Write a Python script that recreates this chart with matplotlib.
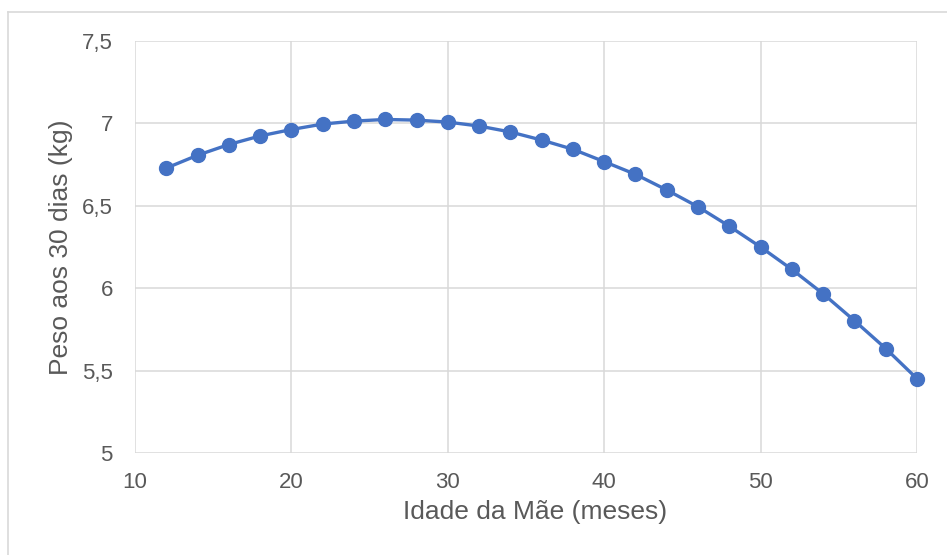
import matplotlib.pyplot as plt
from matplotlib.lines import Line2D
from matplotlib.ticker import FuncFormatter

plt.rcParams['font.family'] = ['Liberation Sans', 'DejaVu Sans']

# Idade da mãe (meses) x peso aos 30 dias (kg)
idade = [12, 14, 16, 18, 20, 22, 24, 26, 28, 30, 32, 34, 36,
         38, 40, 42, 44, 46, 48, 50, 52, 54, 56, 58, 60]
peso = [6.729, 6.807, 6.872, 6.924, 6.963, 6.996, 7.014, 7.024, 7.020,
        7.008, 6.984, 6.948, 6.899, 6.843, 6.768, 6.691, 6.596, 6.494,
        6.376, 6.250, 6.114, 5.966, 5.803, 5.634, 5.451]

x_ticks = [10, 20, 30, 40, 50, 60]
y_ticks = [5, 5.5, 6, 6.5, 7, 7.5]

azul = "#4472C4"
cinza = "#D9D9D9"
texto = "#595959"

fig = plt.figure(figsize=(9.47, 5.55), dpi=100)
ax = fig.add_axes([0.1426, 0.1838, 0.8257, 0.7423])

ax.plot(idade, peso, color=azul, linewidth=2.4, marker="o",
        markersize=10, markerfacecolor=azul, markeredgecolor=azul,
        zorder=3, clip_on=False)

ax.set_xlim(10, 60)
ax.set_ylim(5, 7.5)
ax.set_xticks(x_ticks)
ax.set_yticks(y_ticks)

# virgula como separador decimal
ax.yaxis.set_major_formatter(FuncFormatter(lambda v, p: f"{v:g}".replace(".", ",")))
ax.xaxis.set_major_formatter(FuncFormatter(lambda v, p: f"{v:g}"))

ax.grid(True, color=cinza, linewidth=1.1)
ax.set_axisbelow(True)
for s in ax.spines.values():
    s.set_visible(False)
ax.tick_params(length=0, labelsize=16, labelcolor=texto)
ax.tick_params(axis="y", pad=16)
ax.tick_params(axis="x", pad=14)

ax.set_xlabel("Idade da Mãe (meses)", fontsize=19, color=texto)
ax.set_ylabel("Peso aos 30 dias (kg)", fontsize=19, color=texto)
ax.xaxis.set_label_coords(0.5115, -0.114)
ax.yaxis.set_label_coords(-0.079, 0.5)

# moldura da área do gráfico
W, H = 947, 555
fig.add_artist(Line2D([8 / W, 8 / W], [0, 1 - 12 / H], color=cinza, linewidth=1.2))
fig.add_artist(Line2D([8 / W, 1], [1 - 12 / H, 1 - 12 / H], color=cinza, linewidth=1.2))

plt.savefig("out.png", dpi=100, facecolor="white")
